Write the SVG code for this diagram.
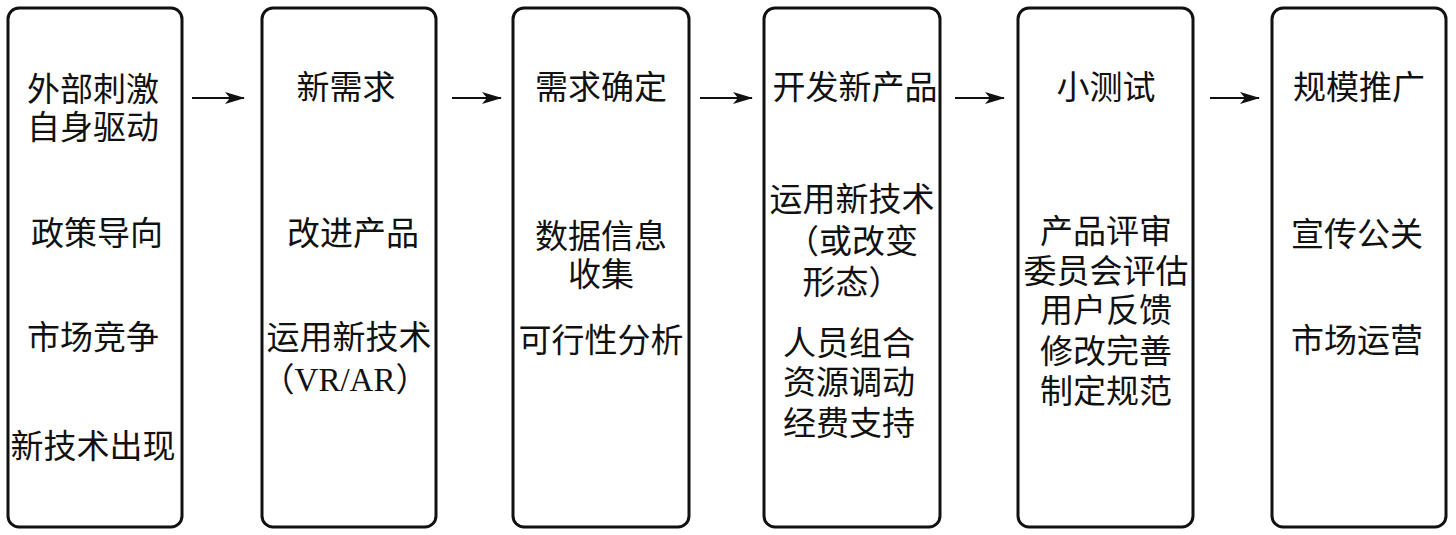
<svg xmlns="http://www.w3.org/2000/svg" width="1456" height="535" viewBox="0 0 1456 535">
<defs>
<style>
.box{fill:#fff;stroke:#111;stroke-width:3}
text{font-family:"Liberation Serif","Noto Sans CJK SC",sans-serif;font-size:33px;fill:#111;text-anchor:middle;dominant-baseline:central}
.c{stroke:#111;stroke-width:2;fill:none}
</style>
<marker id="ah" markerWidth="20" markerHeight="12" refX="19" refY="6" orient="auto" markerUnits="userSpaceOnUse">
<path d="M0,0 L20,6 L0,12 L5,6 Z" fill="#111"/>
</marker>
</defs>
<rect width="1456" height="535" fill="#fff"/>
<g id="n1">
<rect class="box" x="8" y="8" width="174" height="519" rx="11"/>
<text x="93" y="90">外部刺激</text>
<text x="93" y="128">自身驱动</text>
<text x="97" y="234">政策导向</text>
<text x="93" y="338">市场竞争</text>
<text x="93" y="447">新技术出现</text>
</g>
<g id="n2">
<rect class="box" x="262" y="8" width="174" height="519" rx="11"/>
<text x="346" y="88">新需求</text>
<text x="353" y="234">改进产品</text>
<text x="349" y="338">运用新技术</text>
<text x="345" y="380">（VR/AR）</text>
</g>
<g id="n3">
<rect class="box" x="513" y="8" width="176" height="519" rx="11"/>
<text x="601" y="88">需求确定</text>
<text x="601" y="237">数据信息</text>
<text x="601" y="275">收集</text>
<text x="601" y="341">可行性分析</text>
</g>
<g id="n4">
<rect class="box" x="764" y="8" width="176" height="519" rx="11"/>
<text x="855" y="88">开发新产品</text>
<text x="852" y="200">运用新技术</text>
<text x="852" y="242">（或改变</text>
<text x="852" y="283">形态）</text>
<text x="849" y="344">人员组合</text>
<text x="849" y="383">资源调动</text>
<text x="849" y="424">经费支持</text>
</g>
<g id="n5">
<rect class="box" x="1018" y="8" width="175" height="519" rx="11"/>
<text x="1106" y="88">小测试</text>
<text x="1106" y="232">产品评审</text>
<text x="1106" y="272">委员会评估</text>
<text x="1106" y="311">用户反馈</text>
<text x="1106" y="352">修改完善</text>
<text x="1106" y="392">制定规范</text>
</g>
<g id="n6">
<rect class="box" x="1272" y="8" width="174" height="519" rx="11"/>
<text x="1359" y="88">规模推广</text>
<text x="1357" y="235">宣传公关</text>
<text x="1357" y="341">市场运营</text>
</g>
<g id="connectors">
<line class="c" x1="192" y1="98" x2="244" y2="98" marker-end="url(#ah)"/>
<line class="c" x1="452" y1="98" x2="501" y2="98" marker-end="url(#ah)"/>
<line class="c" x1="700" y1="98" x2="752" y2="98" marker-end="url(#ah)"/>
<line class="c" x1="955" y1="98" x2="1004" y2="98" marker-end="url(#ah)"/>
<line class="c" x1="1210" y1="98" x2="1259" y2="98" marker-end="url(#ah)"/>
</g>
</svg>
